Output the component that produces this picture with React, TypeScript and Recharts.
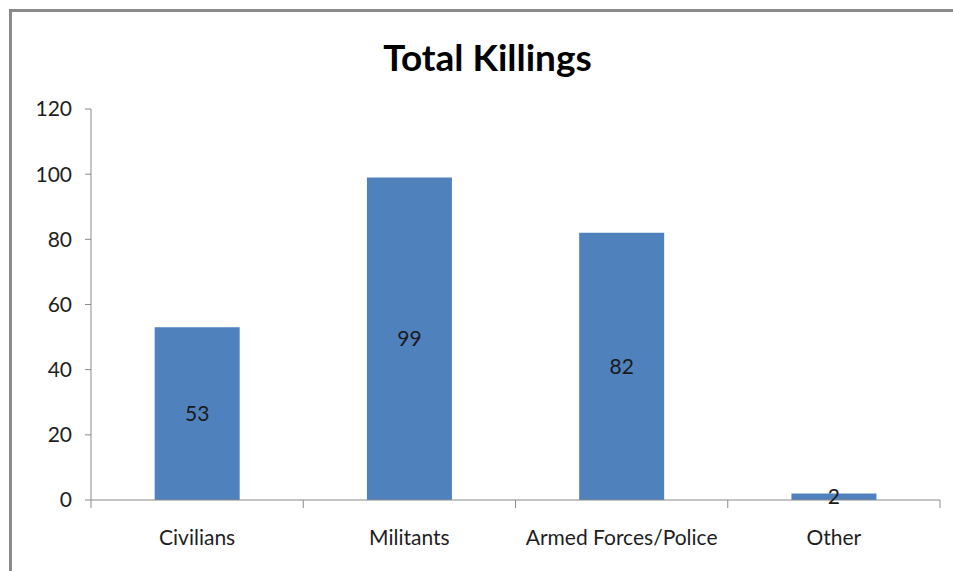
import React from "react";
import { BarChart, Bar, XAxis, YAxis, LabelList } from "recharts";

const categories = ["Civilians", "Militants", "Armed Forces/Police", "Other"];
const killings = [53, 99, 82, 2];
const yTicks = [0, 20, 40, 60, 80, 100, 120];
const title = "Total Killings";

const data = categories.map((name, i) => ({ name, value: killings[i] }));

const FONT = "Lato, 'Noto Sans', sans-serif";
const AXIS_COLOR = "#8a8a8a";
const PLOT_LEFT = 91;
const PLOT_RIGHT = 940;
const BAND = (PLOT_RIGHT - PLOT_LEFT) / categories.length;

const XTick = (props: any) => {
  const { x, y, payload, index } = props;
  const half = BAND / 2;
  const last = index === categories.length - 1;
  return (
    <g>
      <line x1={x - half} x2={x - half} y1={y} y2={y + 8} stroke={AXIS_COLOR} strokeWidth={1} />
      {last && <line x1={x + half} x2={x + half} y1={y} y2={y + 8} stroke={AXIS_COLOR} strokeWidth={1} />}
      <text x={x} y={y + 38} dy="0.35em" textAnchor="middle" fill="#1e1e1e" fontSize={21} fontFamily={FONT}>
        {payload.value}
      </text>
    </g>
  );
};

export default function App() {
  return (
    <div style={{ position: "absolute", left: 0, top: 0, width: 953, height: 571, overflow: "hidden", background: "#fff" }}>
      <div style={{ position: "absolute", left: 9, top: 9, width: 944, height: 3, background: "#8a8a8a" }} />
      <div style={{ position: "absolute", left: 9, top: 9, width: 3, height: 562, background: "#8a8a8a" }} />
      <div
        style={{
          position: "absolute",
          left: 0,
          width: 975,
          top: 35,
          textAlign: "center",
          fontFamily: FONT,
          fontWeight: 700,
          fontSize: 37,
          lineHeight: "44px",
          color: "#000",
        }}
      >
        {title}
      </div>
      <div style={{ position: "absolute", left: 0, top: 0 }}>
        <BarChart width={953} height={571} data={data} margin={{ top: 109, right: 13, bottom: 31, left: 0 }} barCategoryGap="30%">
          <XAxis
            dataKey="name"
            height={40}
            tickSize={0}
            tickMargin={0}
            tickLine={false}
            axisLine={{ stroke: AXIS_COLOR }}
            tick={<XTick />}
            interval={0}
          />
          <YAxis
            width={91}
            domain={[0, 120]}
            ticks={yTicks}
            interval={0}
            tickSize={6}
            tickMargin={13}
            tickLine={{ stroke: AXIS_COLOR }}
            axisLine={{ stroke: AXIS_COLOR }}
            tick={{ fill: "#1e1e1e", fontSize: 21, fontFamily: FONT }}
          />
          <Bar dataKey="value" fill="#4f81bd" isAnimationActive={false}>
            <LabelList dataKey="value" position="center" fill="#1a1a1a" fontSize={21} fontFamily={FONT} />
          </Bar>
        </BarChart>
      </div>
    </div>
  );
}
